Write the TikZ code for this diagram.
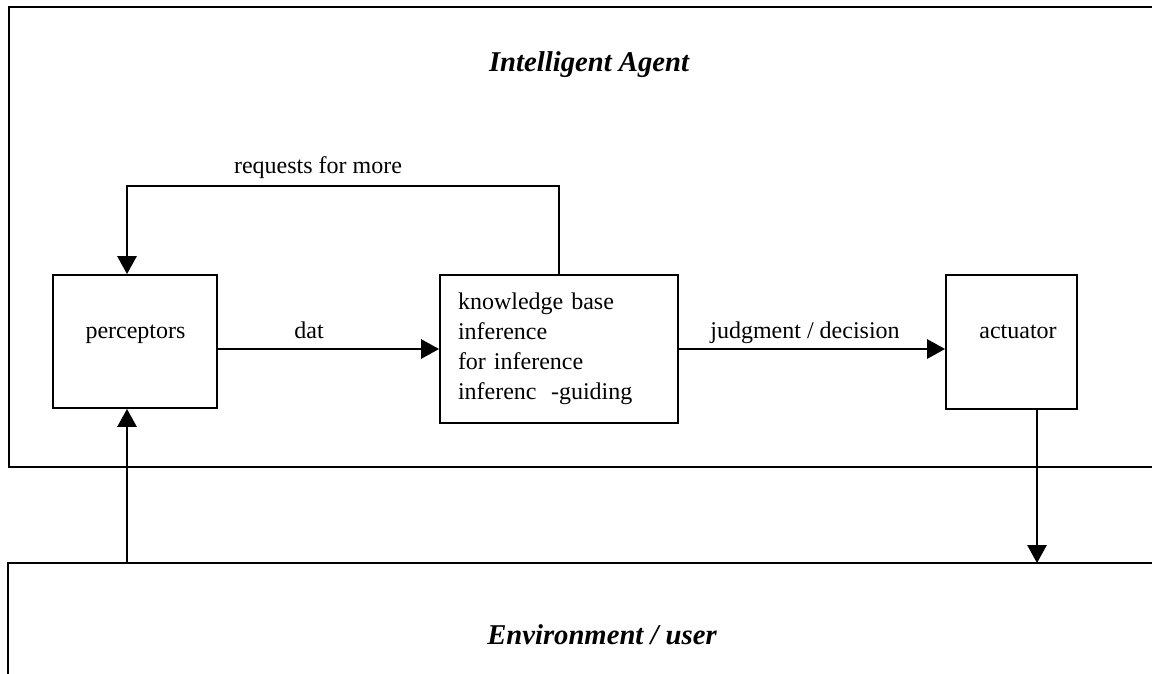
\documentclass[tikz,border=0pt]{standalone}
\usepackage{fontspec}
\setmainfont{Liberation Serif}
\usetikzlibrary{arrows.meta}
\begin{document}
\begin{tikzpicture}[x=0.75pt,y=-0.75pt,
  line width=1.4pt,
  every node/.style={font=\fontsize{18}{22.5}\selectfont},
  box/.style={draw, rectangle, inner sep=0pt},
  lbl/.style={anchor=base, inner sep=0pt},
  head/.style={lbl, font=\fontsize{21.5}{26}\selectfont\bfseries\itshape},
  arr/.style={-{Triangle[length=13.5pt,width=14.5pt]}}]
\useasboundingbox (0,0) rectangle (1152,674);
% enclosing frames
\draw (1152,7) -| (9,467) -- (1152,467);
\draw (1152,563) -| (8,674);
\node[head] (title) at (589,72) {Intelligent Agent};
\node[head] (envt) at (602,644) {Environment / user};
% boxes
\node[box, minimum width=123pt, minimum height=99.75pt] (perc) at (135,341.5) {};
\node[lbl] (perct) at (135.5,338) {perceptors};
\node[box, minimum width=178.5pt, minimum height=111pt, text width=151.5pt, inner xsep=13.5pt, align=left] (kb) at (559,349)
  {knowledge base\\inference\\for inference\\inferenc\hspace{0.6em}-guiding};
\node[box, minimum width=98.25pt, minimum height=100.5pt] (act) at (1011.5,342) {};
\node[lbl] (actt) at (1018,338) {actuator};
% connectors
\draw[arr] (perc.east |- kb.west) -- (kb.west);
\node[lbl] (dat) at (309,338) {dat};
\draw[arr] (kb.east) -- (act.west |- kb.east);
\node[lbl] (jd) at (805,338) {judgment / decision};
\coordinate (rq) at (127,186);
\draw[arr] (kb.north) |- (rq) -- (rq |- perc.north);
\node[lbl] (rqt) at (318,173) {requests for more};
\coordinate (envL) at (127,563);
\draw[arr] (envL) -- (envL |- perc.south);
\coordinate (envR) at (1037,563);
\draw[arr] (envR |- act.south) -- (envR);
\end{tikzpicture}
\end{document}
